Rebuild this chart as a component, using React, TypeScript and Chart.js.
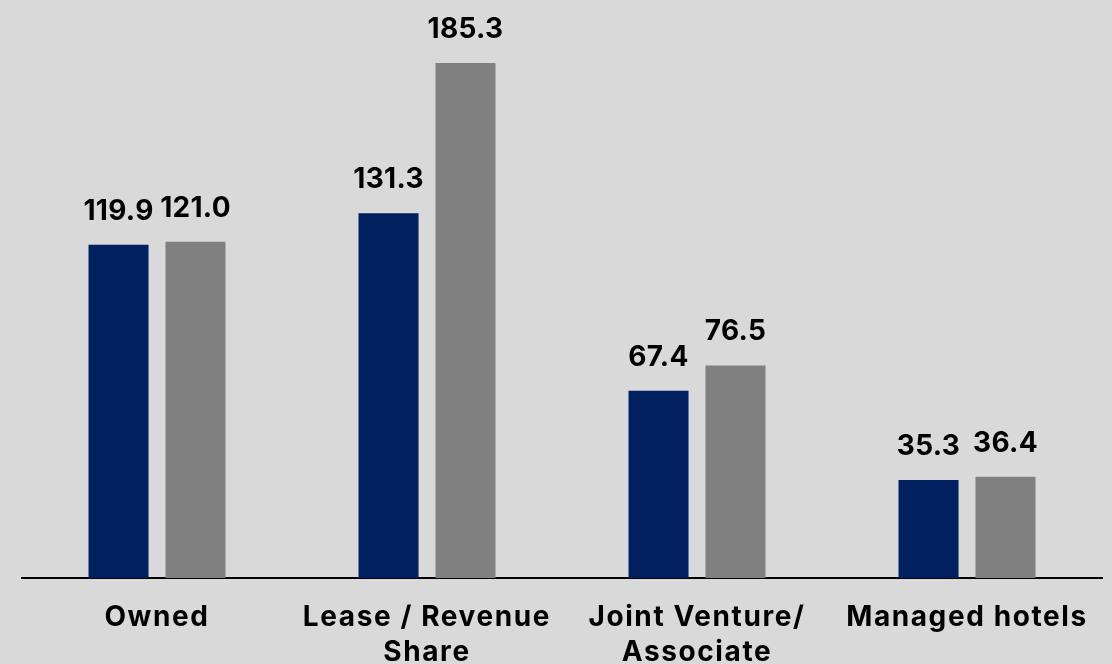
import React, { useEffect, useRef } from "react";
import { Chart, registerables } from "chart.js";

Chart.register(...registerables);

const categories: (string | string[])[] = [
  "Owned",
  ["Lease / Revenue", "Share"],
  ["Joint Venture/", "Associate"],
  "Managed hotels",
];
const seriesA: number[] = [119.9, 131.3, 67.4, 35.3];
const seriesB: number[] = [121.0, 185.3, 76.5, 36.4];
const seriesNames: string[] = ["Period 1", "Period 2"];

const FONT = "Inter, 'Open Sans', sans-serif";

const spacing = {
  id: "spacing",
  beforeDraw(chart: any) {
    (chart.ctx as any).letterSpacing = "1.6px";
  },
  afterDatasetsDraw(chart: any) {
    (chart.ctx as any).letterSpacing = "0px";
  },
};

const valueLabels = {
  id: "valueLabels",
  afterDatasetsDraw(chart: any) {
    const ctx = chart.ctx;
    ctx.save();
    (ctx as any).letterSpacing = "0.3px";
    ctx.font = `bold 28px ${FONT}`;
    ctx.fillStyle = "#000000";
    ctx.textAlign = "center";
    ctx.textBaseline = "alphabetic";
    chart.data.datasets.forEach((ds: any, di: number) => {
      const meta = chart.getDatasetMeta(di);
      meta.data.forEach((bar: any, i: number) => {
        const v = ds.data[i] as number;
        ctx.fillText(v.toFixed(1), bar.x, bar.y - 25);
      });
    });
    ctx.restore();
  },
};

export default function App() {
  const ref = useRef<HTMLCanvasElement | null>(null);
  useEffect(() => {
    if (!ref.current) return;
    const chart = new Chart(ref.current, {
      type: "bar",
      data: {
        labels: categories,
        datasets: [
          {
            label: seriesNames[0],
            data: seriesA,
            backgroundColor: "#002060",
            categoryPercentage: 0.57,
            barPercentage: 0.78,
          },
          {
            label: seriesNames[1],
            data: seriesB,
            backgroundColor: "#808080",
            categoryPercentage: 0.57,
            barPercentage: 0.78,
          },
        ],
      },
      options: {
        animation: false,
        responsive: false,
        maintainAspectRatio: false,
        layout: { padding: { left: 22, right: 10, top: 0, bottom: 0 } },
        plugins: {
          legend: { display: false },
          tooltip: { enabled: false },
        },
        scales: {
          x: {
            grid: { display: false, drawTicks: false },
            border: { display: true, color: "#000000", width: 2 },
            ticks: {
              color: "#000000",
              font: { family: FONT, size: 28, weight: "bold", lineHeight: 1.25 },
              padding: 22,
              maxRotation: 0,
              autoSkip: false,
            },
          },
          y: {
            display: false,
            min: 0,
            max: 208,
          },
        },
      },
      plugins: [spacing, valueLabels],
    });
    return () => chart.destroy();
  }, []);
  return (
    <div
      style={{
        position: "fixed",
        left: 0,
        top: 0,
        width: 1112,
        height: 664,
        background: "#d9d9d9",
        overflow: "hidden",
      }}
    >
      <canvas ref={ref} width={1112} height={692} style={{ display: "block" }} />
    </div>
  );
}
